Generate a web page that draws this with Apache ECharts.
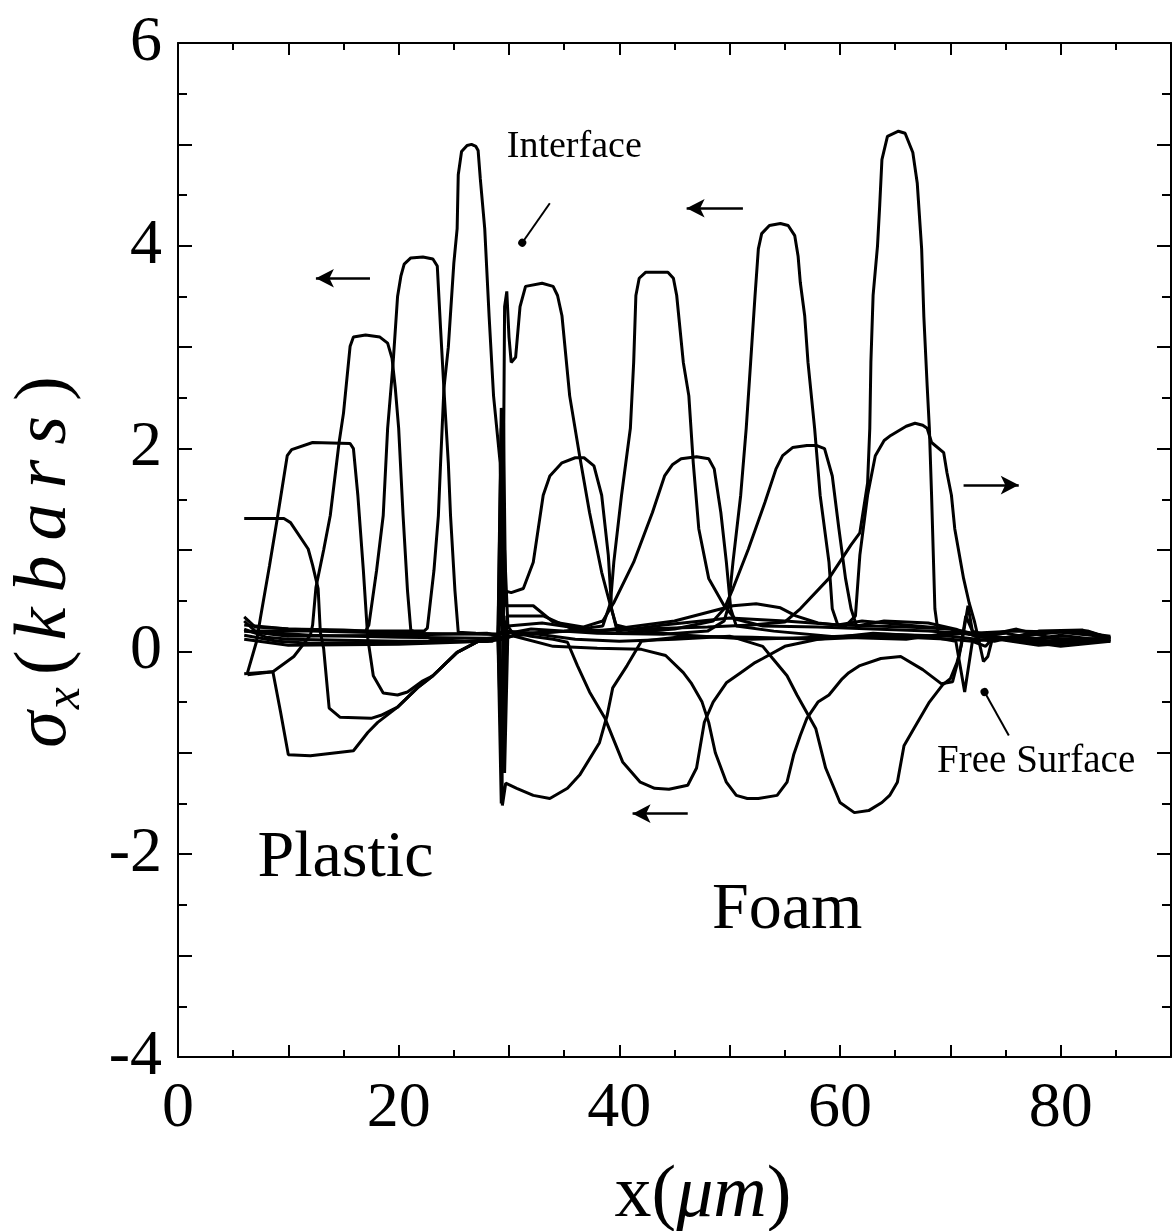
<!DOCTYPE html>
<html><head><meta charset="utf-8">
<script src="https://cdn.jsdelivr.net/npm/echarts@6/dist/echarts.min.js"></script>
<style>html,body{margin:0;padding:0;background:#fff}#c{width:1174px;height:1231px}</style>
</head><body><div id="c"></div>
<script>
// ---- tick labels ----
const xTickLabels = [0, 20, 40, 60, 80];
const yTickLabels = [-4, -2, 0, 2, 4, 6];

// ---- stress profiles sigma_x (kbars) vs x (um), one array per snapshot ----
const s1 = [[6,0.22],[8,0.14],[10,0.12],[20,0.1],[28,0.1],[29.5,0.12],[31,0.18],[36,0.2],[42,0.22],[48,0.24],[52,0.26],[55.0,0.29],[56.4,0.42],[59.0,0.72],[61.0,1.05],[61.8,1.17],[62.5,1.66],[62.7,2.2],[62.8,2.85],[63.0,3.51],[63.4,4.0],[63.6,4.4],[63.8,4.85],[64.3,5.08],[65.3,5.13],[65.9,5.11],[66.6,4.92],[67.0,4.62],[67.4,3.97],[67.6,3.3],[67.9,2.62],[68.1,2.2],[68.3,1.54],[68.6,0.42],[68.9,0.18],[70,0.17],[71.5,0.18],[73,0.14],[78,0.13],[84.5,0.12]];
const s2 = [[6,0.3],[7,0.2],[12,0.2],[20,0.18],[28,0.17],[29.5,0.17],[32,0.22],[38,0.18],[44,0.17],[48,0.2],[49.5,0.3],[49.9,0.45],[50.3,0.88],[51.0,1.54],[51.5,2.2],[51.9,2.85],[52.3,3.51],[52.6,3.97],[52.9,4.12],[53.6,4.2],[54.6,4.22],[55.3,4.2],[55.9,4.1],[56.2,3.9],[56.4,3.64],[56.8,3.31],[57.1,2.85],[57.7,2.2],[58.2,1.54],[59.0,0.88],[59.3,0.42],[59.8,0.26],[62,0.3],[66,0.26],[70,0.22],[72,0.18],[76,0.2],[80,0.19],[84.5,0.14]];
const s3 = [[6,0.2],[12,0.16],[20,0.14],[28,0.13],[29.5,0.14],[31,0.16],[35,0.2],[38.5,0.25],[39.2,0.48],[39.5,0.88],[40.2,1.54],[41.0,2.2],[41.3,2.85],[41.5,3.51],[41.8,3.68],[42.4,3.74],[44.4,3.74],[44.9,3.68],[45.2,3.51],[45.8,2.85],[46.3,2.52],[46.7,1.86],[47.2,1.21],[48.1,0.72],[49.5,0.45],[50.5,0.32],[53,0.25],[58,0.24],[63,0.22],[68,0.2],[71,0.18],[73,0.15],[80,0.08],[84.5,0.12]];
const s4 = [[6,0.16],[9,0.1],[12,0.08],[20,0.09],[28.5,0.1],[29.4,0.2],[29.6,3.4],[29.8,3.55],[30.0,3.1],[30.2,2.85],[30.6,2.9],[31.0,3.4],[31.5,3.6],[33.0,3.63],[34.0,3.6],[34.4,3.51],[34.8,3.31],[35.5,2.52],[36.4,1.93],[37.3,1.37],[38.4,0.78],[39.2,0.45],[39.7,0.26],[42,0.2],[46,0.16],[52,0.12],[58,0.14],[64,0.17],[70,0.15],[74,0.1],[78,0.2],[82,0.21],[84.5,0.13]];
const s5 = [[6,0.26],[10,0.22],[15,0.2],[20,0.2],[22.3,0.2],[22.6,0.23],[23.2,0.8],[23.6,1.34],[23.8,1.86],[24.1,2.59],[24.5,3.0],[25.0,3.83],[25.3,4.17],[25.4,4.7],[25.7,4.93],[26.2,4.99],[26.6,5.0],[27.0,4.98],[27.2,4.94],[27.4,4.66],[27.8,4.17],[28.2,3.3],[28.6,2.52],[29.2,1.86],[29.5,0.6],[30.2,0.58],[31.3,0.62],[32.2,0.88],[33.1,1.54],[33.7,1.73],[34.8,1.86],[36.0,1.91],[36.8,1.91],[37.7,1.83],[38.4,1.54],[39.0,0.95],[39.3,0.42],[39.8,0.2],[44,0.26],[50,0.33],[55,0.3],[60,0.26],[66,0.24],[70,0.22],[72.5,0.15],[78,0.06],[84.5,0.11]];
const s6 = [[6,0.34],[7,0.24],[10,0.22],[15,0.21],[17.0,0.2],[17.3,0.26],[18.0,0.8],[18.6,1.34],[19.0,2.2],[19.5,2.85],[19.9,3.5],[20.2,3.7],[20.5,3.82],[21.1,3.88],[22.2,3.89],[23.1,3.87],[23.5,3.8],[23.8,3.18],[24.1,2.59],[24.5,1.86],[24.7,1.34],[25.1,0.6],[25.4,0.19],[27,0.18],[29.0,0.17],[29.3,2.4],[29.5,2.3],[29.7,0.45],[30.2,0.45],[32.2,0.45],[34.0,0.29],[36.7,0.24],[38.5,0.3],[39.5,0.48],[41.3,0.88],[43.0,1.37],[44.1,1.73],[44.8,1.84],[45.6,1.9],[47.0,1.92],[48.1,1.9],[48.6,1.8],[49.2,1.37],[49.7,0.88],[50.1,0.42],[50.6,0.25],[54,0.2],[60,0.14],[66,0.12],[71,0.2],[73,0.15],[76,0.1],[80,0.16],[84.5,0.1]];
const s7 = [[6,-0.22],[8.6,-0.2],[10.5,-0.05],[12.0,0.16],[12.2,0.26],[12.5,0.63],[13.2,1.0],[13.8,1.34],[14.6,2.06],[15.0,2.35],[15.6,3.01],[15.9,3.1],[17,3.12],[18.3,3.1],[19.0,3.04],[19.4,2.89],[19.7,2.59],[20.0,2.2],[20.4,1.34],[20.8,0.6],[21.1,0.21],[23,0.12],[26,0.1],[29.1,0.12],[29.4,1.2],[29.6,-0.8],[29.8,0.35],[30.4,0.35],[33.1,0.35],[36.2,0.2],[40,0.18],[45,0.22],[48.5,0.3],[49.5,0.42],[50.3,0.62],[51.7,1.01],[53.2,1.47],[54.2,1.8],[54.8,1.93],[55.7,2.01],[57.0,2.03],[57.9,2.03],[58.6,2.0],[59.3,1.73],[59.9,1.21],[60.5,0.72],[61.0,0.42],[61.5,0.25],[64,0.3],[68,0.28],[70.5,0.22],[72.5,0.14],[76,0.22],[80,0.11],[84.5,0.1]];
const s8 = [[6.3,-0.21],[7.1,0.09],[7.5,0.35],[8.3,0.85],[9.0,1.31],[9.9,1.93],[10.3,1.99],[12.2,2.06],[15.6,2.05],[15.9,2.0],[16.3,1.54],[16.8,0.8],[17.2,0.13],[17.7,-0.24],[18.6,-0.41],[19.9,-0.43],[20.8,-0.4],[22.2,-0.29],[23.1,-0.24],[25.3,-0.01],[27.4,0.11],[29.0,0.14],[29.3,-1.0],[29.6,1.0],[29.9,0.25],[33,0.28],[38,0.2],[45,0.3],[50.3,0.45],[52.4,0.47],[54.6,0.43],[56,0.35],[58,0.28],[60.5,0.25],[61.4,0.35],[61.8,0.95],[62.5,1.54],[63.2,1.93],[64.0,2.08],[64.6,2.13],[66.0,2.22],[66.8,2.25],[67.5,2.23],[67.9,2.2],[68.3,2.06],[69.4,1.96],[69.7,1.76],[70.1,1.54],[70.4,1.21],[71.2,0.72],[71.7,0.48],[72.2,0.29],[72.6,0.1],[73.0,-0.1],[73.4,-0.05],[73.8,0.12],[76,0.15],[80,0.2],[82.5,0.2],[84.5,0.13]];
const s9 = [[6.0,1.31],[9.6,1.31],[10.2,1.27],[11.8,1.01],[12.2,0.85],[12.7,0.62],[12.9,0.19],[13.2,0.03],[13.7,-0.56],[14.7,-0.65],[17.5,-0.66],[18.4,-0.63],[19.9,-0.55],[21.7,-0.36],[23.1,-0.24],[25.3,-0.01],[27.4,0.11],[29.0,0.14],[29.3,2.2],[29.6,-1.2],[29.9,0.2],[32,0.18],[36,0.12],[40,0.1],[45,0.12],[50,0.15],[53.0,0.05],[53.9,-0.07],[55.2,-0.24],[56.1,-0.43],[57.8,-0.76],[58.7,-1.15],[60.0,-1.49],[61.3,-1.59],[62.6,-1.57],[63.8,-1.49],[64.5,-1.42],[65.2,-1.29],[65.8,-0.93],[66.7,-0.76],[68.1,-0.5],[69.3,-0.33],[70.0,-0.27],[70.6,-0.11],[71.0,0.06],[71.6,0.45],[72.0,0.2],[74,0.14],[80,0.05],[84.5,0.1]];
const s10 = [[6.3,-0.23],[8.6,-0.2],[9.3,-0.6],[10.0,-1.02],[12,-1.03],[15.9,-0.98],[17.2,-0.8],[18.1,-0.7],[19.9,-0.55],[21.7,-0.36],[23.1,-0.24],[25.3,-0.01],[27.4,0.11],[29.0,0.13],[29.3,-1.5],[29.6,0.3],[30.5,0.15],[34,0.05],[38,0.03],[42,0.02],[44.2,-0.04],[45.8,-0.21],[46.5,-0.31],[47.5,-0.5],[48.1,-0.7],[48.7,-1.0],[49.7,-1.29],[50.6,-1.42],[51.6,-1.45],[52.6,-1.45],[54.3,-1.42],[55.2,-1.29],[55.8,-1.02],[56.4,-0.83],[57.0,-0.66],[58.0,-0.5],[59.0,-0.43],[60.2,-0.27],[60.8,-0.21],[61.8,-0.14],[63.7,-0.07],[65.5,-0.05],[67.5,-0.18],[69.2,-0.32],[70.2,-0.3],[70.8,-0.05],[71.4,0.35],[72.2,0.15],[75,0.18],[79,0.1],[84.5,0.12]];
const s11 = [[6,0.2],[10,0.15],[20,0.16],[28,0.18],[29.0,0.15],[29.3,0.9],[29.6,-0.4],[29.9,0.2],[32,0.15],[34,0.12],[35.3,0.09],[36.2,-0.14],[37.3,-0.4],[38.7,-0.66],[40.3,-1.09],[41.9,-1.29],[43.2,-1.35],[44.5,-1.36],[46.2,-1.32],[47.0,-1.15],[47.7,-0.7],[48.5,-0.5],[49.7,-0.31],[51.0,-0.21],[52.3,-0.11],[53.0,-0.07],[55,0.05],[58,0.12],[63,0.18],[68,0.15],[70.5,0.1],[71.3,-0.4],[72,0.1],[73.2,0.05],[74,0.15],[78,0.08],[84.5,0.14]];
const s12 = [[6,0.12],[10,0.06],[20,0.07],[28,0.1],[29.2,0.15],[29.4,-1.52],[29.7,-1.3],[30.7,-1.35],[32.2,-1.42],[33.7,-1.45],[35.3,-1.35],[36.4,-1.22],[38.2,-0.9],[38.9,-0.63],[39.4,-0.36],[40.7,-0.14],[42,0.1],[46,0.15],[52,0.14],[58,0.12],[64,0.15],[70,0.12],[72,0.1],[76,0.15],[81,0.2],[84.5,0.15]];
const profiles = [s1, s2, s3, s4, s5, s6, s7, s8, s9, s10, s11, s12];

// ---- annotation arrows / pointers: [xFrom, yFrom, xTo, yTo] in data units ----
const arrows = [[17.4, 3.68, 12.5, 3.68], [51.2, 4.37, 46.1, 4.37], [71.2, 1.64, 76.2, 1.64], [46.2, -1.6, 41.2, -1.6]];
const pointers = [[33.7, 4.42, 31.2, 4.03], [75.3, -0.83, 73.1, -0.4]];
const noteText = ['Interface', 'Free Surface', 'Plastic', 'Foam'];
const noteX = [29.8, 68.8, 7.2, 48.4];
const noteY = [4.97, -1.09, -2.04, -2.56];
const noteSize = [38, 39, 66, 66];

const FONT = 'Liberation Serif';
const chart = echarts.init(document.getElementById('c'), null, {renderer: 'canvas'});

const axisCommon = {
  type: 'value', min: 0, max: 90, interval: 10,
  axisLine: {onZero: false, lineStyle: {color: '#000', width: 2}},
  axisTick: {inside: true, length: 12, lineStyle: {color: '#000', width: 2}},
  minorTick: {show: true, splitNumber: 2, length: 7, lineStyle: {color: '#000', width: 2}},
  splitLine: {show: false}
};
const yCommon = {
  type: 'value', min: -4, max: 6, interval: 1,
  axisLine: {onZero: false, lineStyle: {color: '#000', width: 2}},
  axisTick: {inside: true, length: 14, lineStyle: {color: '#000', width: 2}},
  minorTick: {show: true, splitNumber: 2, length: 9, lineStyle: {color: '#000', width: 2}},
  splitLine: {show: false}
};

const series = profiles.map((p, i) => ({
  type: 'line', name: 't' + (i + 1), data: p, showSymbol: false, smooth: false,
  lineStyle: {color: '#000', width: 3}, silent: true, z: 3
}));
series.push({
  type: 'line', name: 'annot', data: [], silent: true,
  markLine: {
    silent: true, animation: false,
    label: {show: false},
    lineStyle: {color: '#000', width: 2.6, type: 'solid'},
    data: arrows.map(a => [
      {coord: [a[0], a[1]], symbol: 'none'},
      {coord: [a[2], a[3]], symbol: 'arrow', symbolSize: [14, 18]}
    ]).concat(pointers.map(a => [
      {coord: [a[0], a[1]], symbol: 'none', lineStyle: {width: 2}},
      {coord: [a[2], a[3]], symbol: 'circle', symbolSize: 8}
    ]))
  }
});

chart.setOption({
  animation: false,
  backgroundColor: '#fff',
  grid: {left: 178, right: 3, top: 43, bottom: 174, containLabel: false},
  xAxis: [
    Object.assign({}, axisCommon, {position: 'bottom',
      axisLabel: {margin: 20, color: '#000', fontFamily: FONT, fontSize: 64,
        formatter: v => xTickLabels.includes(v) ? String(v) : ''}}),
    Object.assign({}, axisCommon, {position: 'top', axisLabel: {show: false}})
  ],
  yAxis: [
    Object.assign({}, yCommon, {position: 'left',
      axisLabel: {margin: 16, color: '#000', fontFamily: FONT, fontSize: 64,
        formatter: v => yTickLabels.includes(v) ? String(v) : ''}}),
    Object.assign({}, yCommon, {position: 'right', axisLabel: {show: false}})
  ],
  series: series
});

// text annotations placed in data space
const notes = noteText.map((t, i) => {
  const p = chart.convertToPixel({xAxisIndex: 0, yAxisIndex: 0}, [noteX[i], noteY[i]]);
  return {type: 'text', x: p[0], y: p[1], silent: true,
    style: {text: t, fill: '#000', font: noteSize[i] + 'px "' + FONT + '"', textAlign: 'left', textVerticalAlign: 'middle'}};
});
const tk = (extra) => Object.assign({fontFamily: FONT, fontSize: 74, fill: '#000', lineHeight: 90, verticalAlign: 'middle', padding: [0, 15, 0, 0]}, extra || {});
notes.push({
  type: 'text', x: 46, y: 562, rotation: Math.PI / 2, silent: true,
  style: {
    text: '{s|σ}{sub|x}{p|(}{i|k}{i|b}{i|a}{i|r}{i|s}{e|)}', textAlign: 'center', textVerticalAlign: 'middle',
    rich: {
      s: tk({fontStyle: 'italic', padding: [0, 2, 0, 0]}),
      sub: tk({fontStyle: 'italic', fontSize: 50, verticalAlign: 'bottom', padding: [0, 12, 0, 0]}),
      p: tk({padding: [0, 10, 0, 0]}),
      i: tk({fontStyle: 'italic'}),
      e: tk({padding: [0, 0, 0, 0]})
    }
  }
});
notes.push({
  type: 'text', x: 703, y: 1197, silent: true,
  style: {
    text: '{n|x(}{i|μm}{n|)}', textAlign: 'center', textVerticalAlign: 'middle',
    rich: {
      n: {fontFamily: FONT, fontSize: 74, fill: '#000'},
      i: {fontFamily: FONT, fontStyle: 'italic', fontSize: 74, fill: '#000'}
    }
  }
});
chart.setOption({graphic: notes});
</script></body></html>
